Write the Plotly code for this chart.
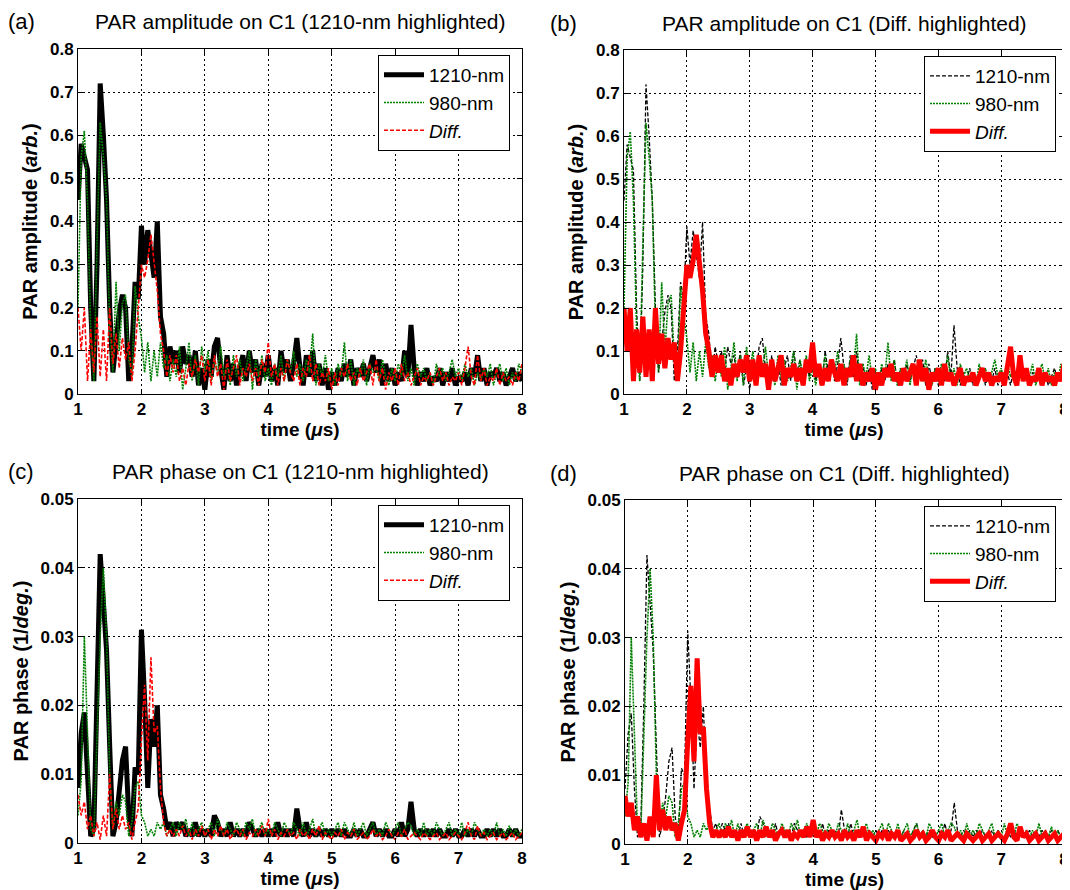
import plotly.graph_objects as go

# ---------------- data ----------------
time_us = [round(1 + 0.05 * i, 2) for i in range(141)]

amp_1210 = [
    0.45, 0.58, 0.55, 0.52, 0.20, 0.03, 0.30, 0.72, 0.60, 0.45,
    0.20, 0.05, 0.12, 0.19, 0.23, 0.20, 0.03, 0.10, 0.26, 0.22,
    0.39, 0.30, 0.38, 0.33, 0.27, 0.40, 0.18, 0.14, 0.04, 0.11, 0.07,
    0.10, 0.05, 0.11, 0.07, 0.09, 0.04, 0.10, 0.02, 0.06, 0.01,
    0.08, 0.04, 0.11, 0.13, 0.06, 0.01, 0.09, 0.03, 0.07, 0.02,
    0.06, 0.09, 0.03, 0.10, 0.05, 0.08, 0.02, 0.07, 0.04, 0.09,
    0.03, 0.06, 0.02, 0.10, 0.05, 0.08, 0.03, 0.07, 0.13, 0.06,
    0.02, 0.09, 0.04, 0.10, 0.03, 0.07, 0.02, 0.06, 0.01, 0.05,
    0.02, 0.06, 0.03, 0.07, 0.04, 0.08, 0.02, 0.06, 0.04, 0.07,
    0.03, 0.06, 0.09, 0.05, 0.08, 0.02, 0.07, 0.03, 0.06, 0.02,
    0.05, 0.03, 0.10, 0.04, 0.16, 0.06, 0.02, 0.05, 0.03, 0.06,
    0.02, 0.04, 0.03, 0.06, 0.02, 0.05, 0.03, 0.06, 0.02, 0.04,
    0.03, 0.05, 0.02, 0.06, 0.04, 0.09, 0.03, 0.06, 0.02, 0.05,
    0.04, 0.06, 0.03, 0.05, 0.02, 0.04, 0.06, 0.03, 0.05, 0.03,
]

amp_980 = [
    0.20, 0.55, 0.61, 0.45, 0.15, 0.03, 0.35, 0.63, 0.55, 0.45,
    0.15, 0.05, 0.26, 0.10, 0.21, 0.23, 0.08, 0.04, 0.25, 0.18,
    0.13, 0.05, 0.12, 0.03, 0.10, 0.04, 0.12, 0.06, 0.09, 0.03, 0.08,
    0.04, 0.11, 0.01, 0.06, 0.12, 0.03, 0.09, 0.02, 0.11, 0.05,
    0.10, 0.03, 0.08, 0.05, 0.11, 0.04, 0.07, 0.02, 0.09, 0.04,
    0.08, 0.03, 0.06, 0.10, 0.01, 0.08, 0.04, 0.09, 0.03, 0.06,
    0.02, 0.07, 0.04, 0.09, 0.03, 0.08, 0.05, 0.10, 0.04, 0.07,
    0.03, 0.08, 0.05, 0.14, 0.02, 0.07, 0.04, 0.09, 0.03, 0.06,
    0.02, 0.07, 0.04, 0.12, 0.03, 0.08, 0.02, 0.06, 0.04, 0.08,
    0.02, 0.07, 0.05, 0.06, 0.03, 0.08, 0.04, 0.02, 0.06, 0.03,
    0.07, 0.04, 0.09, 0.03, 0.06, 0.02, 0.07, 0.04, 0.06, 0.03,
    0.05, 0.02, 0.07, 0.04, 0.06, 0.03, 0.05, 0.08, 0.04, 0.06,
    0.03, 0.07, 0.04, 0.06, 0.02, 0.05, 0.03, 0.06, 0.04, 0.07,
    0.02, 0.05, 0.07, 0.03, 0.06, 0.02, 0.05, 0.03, 0.07, 0.05,
]

amp_diff = [
    0.20, 0.10, 0.20, 0.03, 0.15, 0.05, 0.18, 0.04, 0.15, 0.03,
    0.20, 0.07, 0.14, 0.06, 0.13, 0.08, 0.12, 0.03, 0.10, 0.19,
    0.30, 0.27, 0.31, 0.37, 0.30, 0.24, 0.14, 0.10, 0.04, 0.09, 0.05,
    0.09, 0.03, 0.06, 0.02, 0.07, 0.04, 0.08, 0.05, 0.09, 0.03,
    0.08, 0.02, 0.09, 0.04, 0.07, 0.01, 0.08, 0.03, 0.06, 0.09,
    0.02, 0.06, 0.04, 0.07, 0.03, 0.06, 0.02, 0.08, 0.05, 0.12,
    0.04, 0.07, 0.02, 0.06, 0.03, 0.08, 0.05, 0.03, 0.07, 0.02,
    0.06, 0.04, 0.09, 0.03, 0.07, 0.02, 0.05, 0.03, 0.06, 0.01,
    0.05, 0.02, 0.06, 0.04, 0.07, 0.03, 0.05, 0.02, 0.06, 0.03,
    0.05, 0.07, 0.02, 0.08, 0.03, 0.06, 0.01, 0.05, 0.03, 0.06,
    0.02, 0.07, 0.03, 0.05, 0.02, 0.04, 0.06, 0.02, 0.04, 0.03,
    0.05, 0.02, 0.04, 0.06, 0.03, 0.05, 0.02, 0.04, 0.03, 0.05,
    0.02, 0.06, 0.11, 0.04, 0.02, 0.09, 0.03, 0.06, 0.02, 0.04,
    0.03, 0.06, 0.02, 0.05, 0.03, 0.04, 0.02, 0.05, 0.03, 0.07,
]

phase_1210 = [
    0.008, 0.016, 0.019, 0.008, 0.001, 0.002, 0.020, 0.042, 0.035, 0.028,
    0.014, 0.001, 0.003, 0.007, 0.012, 0.014, 0.004, 0.001, 0.011, 0.010,
    0.031, 0.021, 0.008, 0.018, 0.014, 0.020, 0.007, 0.005, 0.002, 0.003, 0.001,
    0.003, 0.002, 0.003, 0.001, 0.002, 0.001, 0.003, 0.001, 0.002, 0.001,
    0.002, 0.001, 0.004, 0.003, 0.001, 0.002, 0.001, 0.003, 0.001, 0.002,
    0.001, 0.002, 0.001, 0.003, 0.002, 0.001, 0.002, 0.001, 0.002, 0.001,
    0.002, 0.001, 0.003, 0.001, 0.002, 0.001, 0.002, 0.001, 0.005, 0.002,
    0.001, 0.003, 0.001, 0.002, 0.001, 0.002, 0.001, 0.002, 0.001, 0.002,
    0.001, 0.002, 0.001, 0.002, 0.001, 0.001, 0.002, 0.001, 0.002, 0.001,
    0.001, 0.002, 0.003, 0.001, 0.002, 0.001, 0.002, 0.001, 0.001, 0.002,
    0.001, 0.003, 0.001, 0.002, 0.006, 0.002, 0.001, 0.002, 0.001, 0.002,
    0.001, 0.002, 0.001, 0.002, 0.001, 0.001, 0.002, 0.001, 0.002, 0.001,
    0.001, 0.002, 0.001, 0.002, 0.001, 0.002, 0.001, 0.001, 0.002, 0.001,
    0.002, 0.001, 0.002, 0.001, 0.001, 0.002, 0.001, 0.002, 0.001, 0.001,
]

phase_980 = [
    0.004, 0.009, 0.030, 0.015, 0.002, 0.001, 0.015, 0.030, 0.040, 0.030,
    0.010, 0.002, 0.006, 0.004, 0.007, 0.006, 0.001, 0.003, 0.008, 0.009,
    0.004, 0.003, 0.001, 0.002, 0.001, 0.003, 0.002, 0.003, 0.001, 0.002, 0.003,
    0.001, 0.003, 0.002, 0.0035, 0.001, 0.003, 0.001, 0.002, 0.003, 0.001,
    0.002, 0.003, 0.001, 0.0035, 0.002, 0.001, 0.003, 0.002, 0.001, 0.003,
    0.002, 0.001, 0.003, 0.002, 0.0035, 0.001, 0.002, 0.003, 0.001, 0.002,
    0.001, 0.003, 0.002, 0.001, 0.003, 0.002, 0.001, 0.003, 0.002, 0.001,
    0.003, 0.001, 0.002, 0.0035, 0.001, 0.002, 0.003, 0.001, 0.002, 0.001,
    0.002, 0.003, 0.001, 0.003, 0.002, 0.001, 0.003, 0.001, 0.002, 0.003,
    0.001, 0.002, 0.003, 0.001, 0.002, 0.001, 0.003, 0.002, 0.001, 0.002,
    0.003, 0.001, 0.002, 0.003, 0.0025, 0.001, 0.002, 0.001, 0.003, 0.001,
    0.002, 0.001, 0.003, 0.002, 0.001, 0.002, 0.003, 0.001, 0.002, 0.001,
    0.003, 0.001, 0.002, 0.001, 0.003, 0.002, 0.001, 0.002, 0.001, 0.002,
    0.001, 0.003, 0.001, 0.002, 0.001, 0.0025, 0.001, 0.002, 0.001, 0.002,
]

phase_diff = [
    0.007, 0.004, 0.006, 0.002, 0.004, 0.001, 0.003, 0.0005, 0.004, 0.001,
    0.010, 0.002, 0.005, 0.002, 0.004, 0.002, 0.003, 0.0005, 0.003, 0.005,
    0.015, 0.023, 0.012, 0.027, 0.016, 0.017, 0.008, 0.003, 0.001, 0.002, 0.001,
    0.002, 0.001, 0.0025, 0.001, 0.002, 0.0005, 0.002, 0.001, 0.0025, 0.001,
    0.002, 0.0005, 0.002, 0.001, 0.0025, 0.001, 0.002, 0.0005, 0.0015, 0.002,
    0.001, 0.002, 0.0005, 0.0015, 0.001, 0.002, 0.001, 0.0025, 0.001, 0.0035,
    0.001, 0.002, 0.0005, 0.0015, 0.001, 0.002, 0.001, 0.0015, 0.0005, 0.002,
    0.001, 0.0015, 0.0005, 0.002, 0.001, 0.0025, 0.0005, 0.0015, 0.001, 0.0005,
    0.0015, 0.001, 0.002, 0.0005, 0.0015, 0.001, 0.002, 0.0005, 0.001, 0.0015,
    0.0005, 0.001, 0.002, 0.001, 0.0015, 0.0005, 0.001, 0.002, 0.001, 0.0005,
    0.0015, 0.001, 0.002, 0.0005, 0.001, 0.0015, 0.001, 0.0005, 0.0015, 0.001,
    0.0005, 0.001, 0.0015, 0.0005, 0.001, 0.0015, 0.0005, 0.001, 0.0015, 0.001,
    0.0005, 0.0015, 0.003, 0.001, 0.0005, 0.0025, 0.001, 0.0015, 0.0005, 0.001,
    0.0015, 0.0005, 0.001, 0.0015, 0.0005, 0.001, 0.0015, 0.0005, 0.001, 0.0015,
]

series_names = ["1210-nm", "980-nm", "<i>Diff.</i>"]
panel_labels = ["(a)", "(b)", "(c)", "(d)"]
panel_titles = [
    "PAR amplitude on C1 (1210-nm highlighted)",
    "PAR amplitude on C1 (Diff. highlighted)",
    "PAR phase on C1 (1210-nm highlighted)",
    "PAR phase on C1 (Diff. highlighted)",
]
x_ticks = [1, 2, 3, 4, 5, 6, 7, 8]
amp_ticks = [0, 0.1, 0.2, 0.3, 0.4, 0.5, 0.6, 0.7, 0.8]
amp_tick_text = ["0", "0.1", "0.2", "0.3", "0.4", "0.5", "0.6", "0.7", "0.8"]
phase_ticks = [0, 0.01, 0.02, 0.03, 0.04, 0.05]
phase_tick_text = ["0", "0.01", "0.02", "0.03", "0.04", "0.05"]

# ---------------- layout geometry ----------------
# the page body adds an 8 px margin, so the figure is 8 px smaller and all
# target screen positions are shifted by OFF
OFF = 8
W, H = 1070 - OFF, 890 - OFF
FONT = "Liberation Sans, Arial, sans-serif"
GREEN = "#008000"

# plot areas in screen pixels: (left, right, top, bottom)
areas = [(78, 522, 49, 394), (624, 1064, 50, 394),
         (78, 522, 499, 843), (625, 1064, 500, 844)]


def px(x):
    return (x - OFF) / W


def py(y):
    return 1 - (y - OFF) / H


fig = go.Figure()

panel_data = [
    (amp_1210, amp_980, amp_diff, "black"),
    (amp_1210, amp_980, amp_diff, "red"),
    (phase_1210, phase_980, phase_diff, "black"),
    (phase_1210, phase_980, phase_diff, "red"),
]

for k, (s1210, s980, sdiff, hl) in enumerate(panel_data):
    xa = "x" if k == 0 else f"x{k+1}"
    ya = "y" if k == 0 else f"y{k+1}"
    lg = "legend" if k == 0 else f"legend{k+1}"
    if hl == "black":
        st1210 = dict(color="black", width=5, dash="solid")
        stdiff = dict(color="red", width=1.6, dash="4px,2px")
    else:
        st1210 = dict(color="black", width=1.3, dash="4px,2px")
        stdiff = dict(color="red", width=5, dash="solid")
    st980 = dict(color=GREEN, width=1.6, dash="2px,1px")
    for name, ys, st in zip(series_names, [s1210, s980, sdiff],
                            [st1210, st980, stdiff]):
        fig.add_trace(go.Scatter(x=time_us, y=ys, mode="lines", name=name,
                                 line=st, xaxis=xa, yaxis=ya, legend=lg))

layout = dict(
    width=W, height=H, margin=dict(l=0, r=0, t=0, b=0, autoexpand=False),
    paper_bgcolor="white", plot_bgcolor="white",
    font=dict(family=FONT, color="black", size=14),
    annotations=[],
)

for k, (l, r, t, b) in enumerate(areas):
    xk = "xaxis" if k == 0 else f"xaxis{k+1}"
    yk = "yaxis" if k == 0 else f"yaxis{k+1}"
    yname = "y" if k == 0 else f"y{k+1}"
    xname = "x" if k == 0 else f"x{k+1}"
    is_amp = k < 2
    common = dict(
        showline=True, linecolor="black", linewidth=1, mirror="ticks",
        ticks="inside", ticklen=5, tickcolor="black",
        showgrid=True, gridcolor="black", gridwidth=1, griddash="2px,3px",
        zeroline=False, automargin=False, ticklabeloverflow="allow",
        tickfont=dict(family=FONT, size=17, weight="bold", color="black"),
    )
    layout[xk] = dict(
        common, domain=[px(l), px(r)], anchor=yname, range=[1, 8],
        tickvals=x_ticks, ticktext=[str(v) for v in x_ticks],
        title=dict(text="<b>time (<i>μ</i>s)</b>",
                   font=dict(family=FONT, size=19), standoff=2),
    )
    layout[yk] = dict(
        common, domain=[py(b), py(t)], anchor=xname,
        range=[0, 0.8] if is_amp else [0, 0.05],
        tickvals=amp_ticks if is_amp else phase_ticks,
        ticktext=amp_tick_text if is_amp else phase_tick_text,
        title=dict(text="<b>PAR amplitude (<i>arb.</i>)</b>" if is_amp
                   else "<b>PAR phase (1/<i>deg.</i>)</b>",
                   font=dict(family=FONT, size=20), standoff=6),
    )
    lgk = "legend" if k == 0 else f"legend{k+1}"
    leg_left = 378 if k % 2 == 0 else 924
    leg_top = t + 6
    layout[lgk] = dict(
        x=px(leg_left), y=py(leg_top), xanchor="left", yanchor="top",
        xref="paper", yref="paper",
        bgcolor="white", bordercolor="black", borderwidth=1,
        font=dict(family=FONT, size=19, color="black"),
        tracegroupgap=0, itemwidth=40,
    )
    # panel title and label
    layout["annotations"].append(dict(
        text=panel_titles[k], x=px((l + r) / 2), y=py(t - 27),
        xref="paper", yref="paper", xanchor="center", yanchor="middle",
        showarrow=False, font=dict(family=FONT, size=21, color="black")))
    label_x = 6 if k % 2 == 0 else 548
    layout["annotations"].append(dict(
        text=panel_labels[k], x=px(label_x), y=py(t - 27),
        xref="paper", yref="paper", xanchor="left", yanchor="middle",
        showarrow=False, font=dict(family=FONT, size=22, color="black")))

fig.update_layout(**layout)
fig.write_html("out.html")
